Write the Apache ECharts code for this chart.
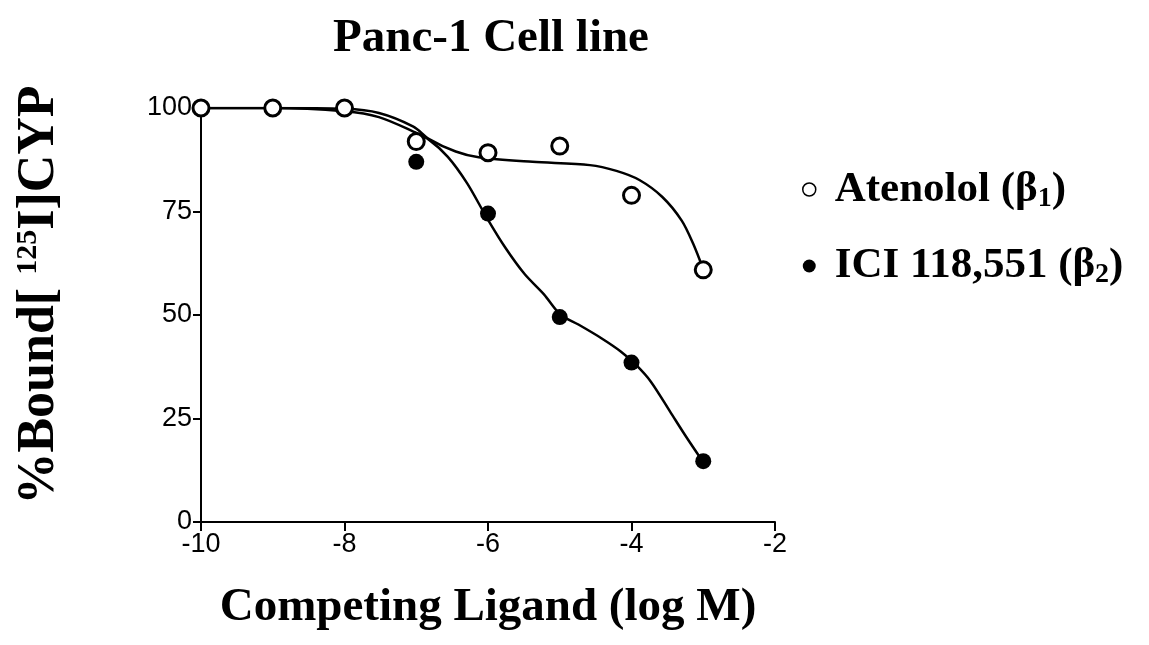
<!DOCTYPE html>
<html>
<head>
<meta charset="utf-8">
<script src="https://cdn.jsdelivr.net/npm/echarts@6/dist/echarts.min.js"></script>
<style>
  html, body { margin: 0; padding: 0; background: #fff; }
  #chart { width: 1149px; height: 645px; }
</style>
</head>
<body>
<div id="chart"></div>
<script>
// measured points, log M vs % bound
const atenololX = [-10, -9, -8, -7, -6, -5, -4, -3];
const atenololY = [100, 100, 100, 91.9, 89.2, 90.8, 78.9, 60.9];
const iciX = [-7, -6, -5, -4, -3];
const iciY = [87.0, 74.5, 49.5, 38.5, 14.7];

// fitted curves
const atenololFitX = [-10, -9, -8, -7.52, -7.04, -6.82, -6.45, -6.13, -5.38, -4.58, -4.21, -3.89, -3.57, -3.30, -3.14, -3.01];
const atenololFitY = [100, 100, 99.8, 98.8, 95.5, 92.5, 89.5, 88.1, 87.0, 86.2, 84.8, 82.6, 78.5, 72.8, 67.2, 61.5];
const iciFitX = [-10, -9, -8, -7.52, -7.04, -6.82, -6.56, -6.29, -6.02, -5.76, -5.49, -5.22, -4.99, -4.74, -4.42, -4.15, -3.94, -3.73, -3.46, -3.25, -3.01];
const iciFitY = [100, 100, 99.2, 97.8, 94.3, 92.3, 88.2, 81.8, 73.6, 66.3, 59.9, 55.0, 50.1, 47.7, 44.4, 41.2, 38.0, 33.9, 26.6, 20.9, 14.7];

const xTicks = [-10, -8, -6, -4, -2];
const yTicks = [0, 25, 50, 75, 100];

const serif = '"Liberation Serif", "Times New Roman", serif';
const sans = '"Liberation Sans", Arial, sans-serif';

const zip = (xs, ys) => xs.map((x, i) => [x, ys[i]]);

const chart = echarts.init(document.getElementById('chart'));

const legendRich = {
  g: { width: 14 },
  t: { fontFamily: serif, fontWeight: 'bold', fontSize: 43, color: '#000', lineHeight: 46 },
  s: { fontFamily: serif, fontWeight: 'bold', fontSize: 28, color: '#000', lineHeight: 46, verticalAlign: 'bottom', padding: [16, 0, 0, 0] }
};

chart.setOption({
  animation: false,
  backgroundColor: '#fff',
  title: {
    text: 'Panc-1 Cell line',
    left: 486,
    top: 10,
    textAlign: 'center',
    textStyle: { fontFamily: serif, fontWeight: 'bold', fontSize: 47, color: '#000' }
  },
  legend: {
    orient: 'vertical',
    left: 797,
    top: 163,
    itemGap: 32,
    itemWidth: 13,
    itemHeight: 13,
    data: [
      { name: 'Atenolol', icon: 'circle', itemStyle: { color: '#fff', borderColor: '#000', borderWidth: 1.5, opacity: 1 } },
      { name: 'ICI 118,551', icon: 'circle', itemStyle: { color: '#000', opacity: 1 } }
    ],
    formatter: name => name === 'Atenolol'
      ? '{g|}{t|Atenolol (β}{s|1}{t|)}'
      : '{g|}{t|ICI 118,551 (β}{s|2}{t|)}',
    textStyle: { rich: legendRich }
  },
  graphic: [{
    type: 'text',
    x: 40,
    y: 295,
    rotation: Math.PI / 2,
    style: {
      text: '{t|%Bound[ }{u|125}{t|I]CYP}',
      align: 'center',
      verticalAlign: 'middle',
      rich: {
        t: { fontFamily: serif, fontWeight: 'bold', fontSize: 52, fill: '#000', lineHeight: 54 },
        u: { fontFamily: serif, fontWeight: 'bold', fontSize: 30, fill: '#000', lineHeight: 54, verticalAlign: 'top', padding: [0, 0, 4, 0] }
      }
    }
  }],
  grid: { left: 201, right: 374, top: 108, bottom: 123 },
  xAxis: {
    type: 'value',
    min: xTicks[0],
    max: xTicks[xTicks.length - 1],
    interval: 2,
    name: 'Competing Ligand (log M)',
    nameLocation: 'middle',
    nameGap: 62,
    nameTextStyle: { fontFamily: serif, fontWeight: 'bold', fontSize: 47, color: '#000' },
    splitLine: { show: false },
    axisLine: { onZero: false, lineStyle: { color: '#000', width: 2 } },
    axisTick: { length: 9, lineStyle: { color: '#000', width: 2 } },
    axisLabel: { fontFamily: sans, fontSize: 27, color: '#000', margin: 9 }
  },
  yAxis: {
    type: 'value',
    min: yTicks[0],
    max: yTicks[yTicks.length - 1],
    interval: 25,
    splitLine: { show: false },
    axisLine: { onZero: false, lineStyle: { color: '#000', width: 2 } },
    axisTick: { length: 8, lineStyle: { color: '#000', width: 2 } },
    axisLabel: { fontFamily: sans, fontSize: 27, color: '#000', margin: 9 }
  },
  series: [
    {
      name: 'Atenolol fit',
      type: 'line',
      data: zip(atenololFitX, atenololFitY),
      smooth: 0.3,
      showSymbol: false,
      lineStyle: { color: '#000', width: 2.5 },
      z: 1
    },
    {
      name: 'ICI fit',
      type: 'line',
      data: zip(iciFitX, iciFitY),
      smooth: 0.3,
      showSymbol: false,
      lineStyle: { color: '#000', width: 2.5 },
      z: 1
    },
    {
      name: 'ICI 118,551',
      type: 'scatter',
      data: zip(iciX, iciY),
      symbol: 'circle',
      symbolSize: 16,
      itemStyle: { color: '#000', opacity: 1 },
      z: 2
    },
    {
      name: 'Atenolol',
      type: 'scatter',
      data: zip(atenololX, atenololY),
      symbol: 'circle',
      symbolSize: 16,
      itemStyle: { color: '#fff', borderColor: '#000', borderWidth: 3, opacity: 1 },
      z: 3
    }
  ]
});
</script>
</body>
</html>
